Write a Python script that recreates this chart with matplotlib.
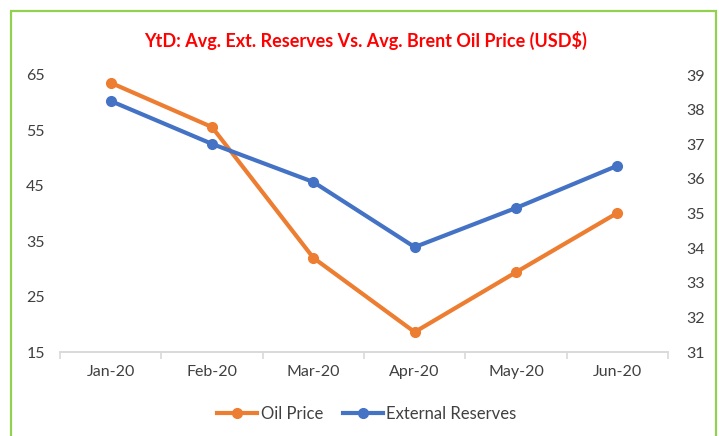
import matplotlib
matplotlib.use("Agg")
import matplotlib.pyplot as plt
from matplotlib.patches import Rectangle
from matplotlib.lines import Line2D

months = ["Jan-20", "Feb-20", "Mar-20", "Apr-20", "May-20", "Jun-20"]
oil_price = [63.6, 55.6, 32.0, 18.6, 29.4, 40.1]
ext_reserves = [38.25, 37.01, 35.91, 34.03, 35.16, 36.38]

plt.rcParams["font.family"] = ["Lato", "DejaVu Sans"]
orange = "#ED7D31"
blue = "#4472C4"
txt = "#404040"

fig = plt.figure(figsize=(7.19, 4.36), dpi=100)
fig.patch.set_facecolor("white")

# green frame round the chart (bottom edge is off-picture)
fig.patches.append(Rectangle((10.5 / 719, -0.1), 705.5 / 719, 1.1 - 11.5 / 436,
                             transform=fig.transFigure, fill=False,
                             edgecolor="#92D050", linewidth=1.6))

ax = fig.add_axes([60 / 719, 1 - 352 / 436, 608 / 719, 277 / 436])
ax2 = ax.twinx()

x = range(len(months))
ax.plot(x, oil_price, color=orange, lw=3, marker="o", ms=7, zorder=3)
ax2.plot(x, ext_reserves, color=blue, lw=3, marker="o", ms=7, zorder=3)

ax.set_xlim(-0.5, len(months) - 0.5)
ax.set_ylim(15, 65)
ax.set_yticks(range(15, 66, 10))
ax2.set_ylim(31, 39)
ax2.set_yticks(range(31, 40))

for a in (ax, ax2):
    for s in ("top", "left", "right"):
        a.spines[s].set_visible(False)
    a.spines["bottom"].set_color("#D9D9D9")
    a.spines["bottom"].set_linewidth(1.2)
    a.tick_params(axis="y", length=0, labelsize=11.5, labelcolor=txt)

ax.tick_params(axis="y", pad=11)
ax2.tick_params(axis="y", pad=13)

ax.set_xticks(list(x))
ax.set_xticklabels(months)
ax.set_xticks([i - 0.5 for i in range(len(months) + 1)], minor=True)
ax.tick_params(axis="x", which="major", length=0, pad=9, labelsize=11.5, labelcolor=txt)
ax.tick_params(axis="x", which="minor", length=5, color="#D9D9D9", width=1.2)

fig.text(366 / 719, 1 - 40 / 436, "YtD: Avg. Ext. Reserves Vs. Avg. Brent Oil Price (USD$)",
         color="red", fontsize=13, fontweight="bold", ha="center", va="center")

handles = [Line2D([], [], color=orange, lw=3, marker="o", ms=7),
           Line2D([], [], color=blue, lw=3, marker="o", ms=7)]
fig.legend(handles, ["Oil Price", "External Reserves"], loc="center",
           bbox_to_anchor=(367 / 719, 1 - 414 / 436), ncol=2, frameon=False,
           fontsize=12, labelcolor=txt, handlelength=2.4, columnspacing=1.2,
           handletextpad=0.2)

fig.savefig("out.png", dpi=100)
